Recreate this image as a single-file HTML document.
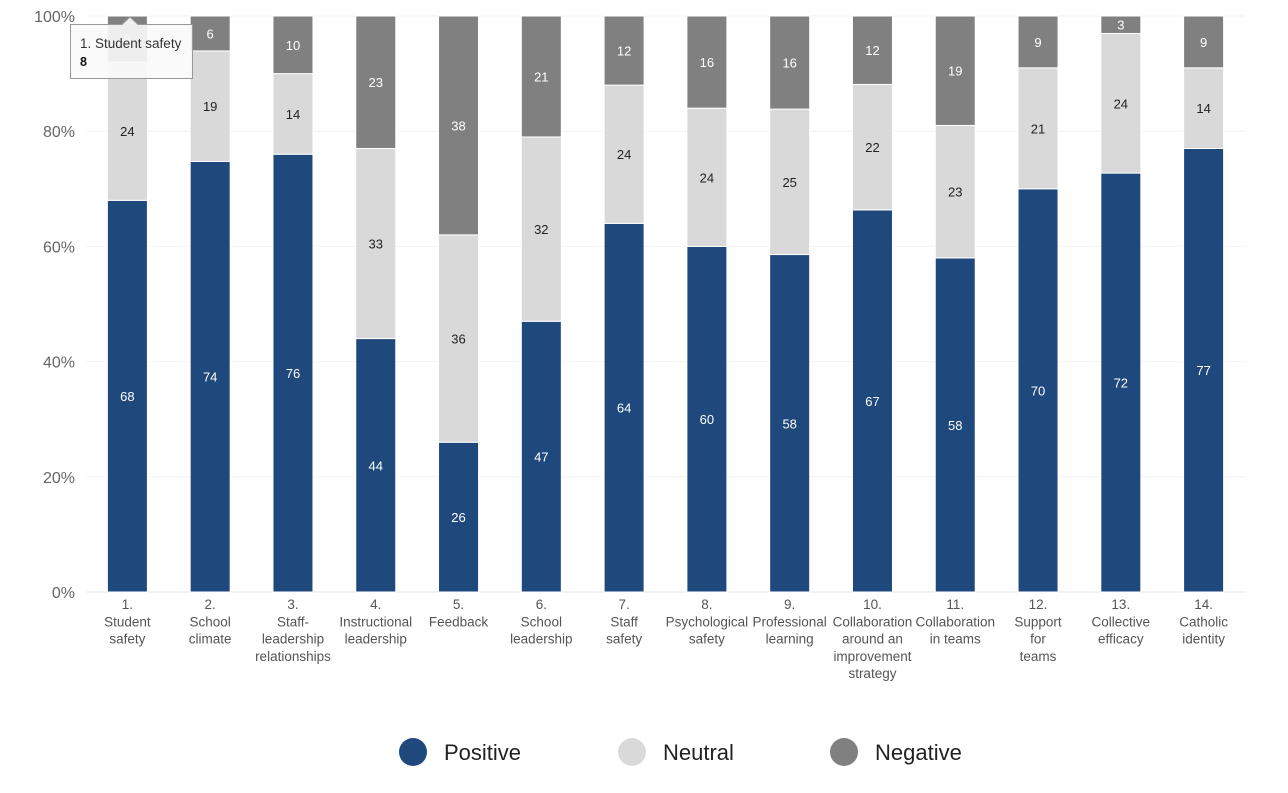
<!DOCTYPE html>
<html><head><meta charset="utf-8"><style>
body{margin:0;background:#fff;font-family:"Liberation Sans",Arial,sans-serif}
svg{display:block}
</style></head><body>
<svg id="chart" width="1288" height="793"></svg>
<script>
const categories=[["1.","Student","safety"],["2.","School","climate"],["3.","Staff-","leadership","relationships"],["4.","Instructional","leadership"],["5.","Feedback"],["6.","School","leadership"],["7.","Staff","safety"],["8.","Psychological","safety"],["9.","Professional","learning"],["10.","Collaboration","around an","improvement","strategy"],["11.","Collaboration","in teams"],["12.","Support","for","teams"],["13.","Collective","efficacy"],["14.","Catholic","identity"]];
const positive=[68,74,76,44,26,47,64,60,58,67,58,70,72,77];
const neutral=[24,19,14,33,36,32,24,24,25,22,23,21,24,14];
const negative=[8,6,10,23,38,21,12,16,16,12,19,9,3,9];
const yTicks=[0,20,40,60,80,100];
const seriesNames=["Positive","Neutral","Negative"];
const colors=["#1f487c","#d9d9d9","#808080"];
const NS="http://www.w3.org/2000/svg";
const svg=document.getElementById('chart');
const X0=86,X1=1245,Y0=592,Y1=16;
const band=(X1-X0)/categories.length;
const barW=40;
const xC=i=>X0+band*(i+0.5);
const y=p=>Y0-(Y0-Y1)*p/100;
function mk(tag,attrs,parent){const e=document.createElementNS(NS,tag);for(const k in attrs)e.setAttribute(k,attrs[k]);(parent||svg).appendChild(e);return e;}
yTicks.forEach(t=>{
  const g=mk('line',{x1:X0,x2:X1,y1:y(t),y2:y(t),stroke:t===0?'#e6e6e6':'#f2f2f2','stroke-width':1});
  
  
  const tx=mk('text',{x:75,y:y(t)+6,'text-anchor':'end','font-size':16,fill:'#666'});
  tx.textContent=t+'%';
  
  
});
const series=[positive,neutral,negative];
categories.forEach((c,i)=>{
  const total=positive[i]+neutral[i]+negative[i];
  let cum=0;
  series.forEach((s,k)=>{
    const v=s[i];const p0=cum/total*100;cum+=v;const p1=cum/total*100;
    const r=mk('rect',{x:xC(i)-barW/2,y:y(p1),width:barW,height:y(p0)-y(p1),fill:colors[k],stroke:'#fff','stroke-width':1});
    
    
    const t=mk('text',{x:xC(i),y:(y(p0)+y(p1))/2+5,'text-anchor':'middle','font-size':13,fill:k===1?'#222':'#fff'});
    t.textContent=v;
    
    
  });
  const lbl=mk('text',{'text-anchor':'middle','font-size':13.5,fill:'#555'});
  
  
  c.forEach((line,j)=>{const ts=mk('tspan',{x:xC(i),y:609+j*17.3},lbl);ts.textContent=line;});
});
const legX=[413,632,844];
seriesNames.forEach((n,k)=>{
  const g=mk('g',{});
  
  
  mk('circle',{cx:legX[k],cy:752,r:14,fill:colors[k]},g);
  const t=mk('text',{x:legX[k]+31,y:760,'font-size':22,fill:'#222'},g);
  t.textContent=n;
});
const tg=mk('g',{});


mk('path',{d:'M70.5,24.5 H122 L130,17 L138,24.5 H192.5 V78.5 H70.5 Z',fill:'rgba(250,250,250,0.9)',stroke:'#999','stroke-width':1},tg);
const t1=mk('text',{x:80,y:48,'font-size':13.5,fill:'#333'},tg);t1.textContent='1. Student safety';
const t2=mk('text',{x:80,y:66,'font-size':12.5,'font-weight':'bold',fill:'#111'},tg);t2.textContent=negative[0];
</script>
</body></html>
